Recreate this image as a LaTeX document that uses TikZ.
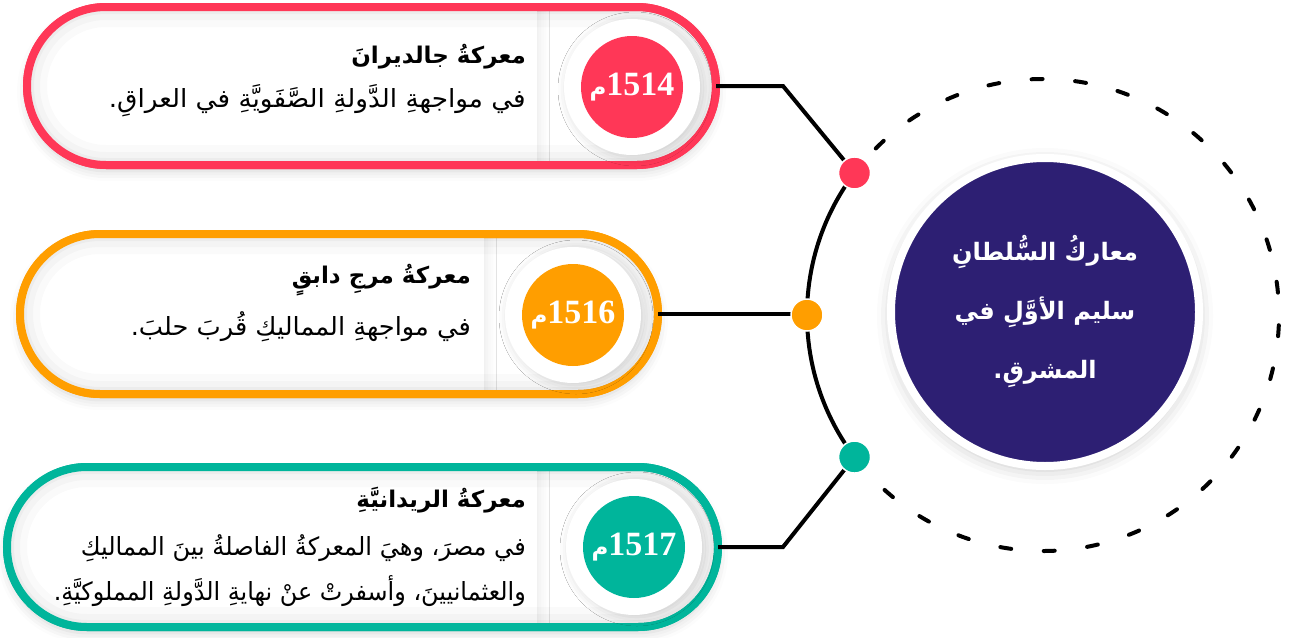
\documentclass[tikz,border=0pt]{standalone}
\usepackage{graphicx}
\usepackage{fontspec}
\setmainfont{Liberation Serif}
\newfontfamily\arabicfont[Script=Arabic]{DejaVu Sans}
\TeXXeTstate=1
\usetikzlibrary{shadows.blur,calc}
\definecolor{cred}{HTML}{FF3757}
\definecolor{corange}{HTML}{FF9E00}
\definecolor{cteal}{HTML}{00B59B}
\definecolor{cnavy}{HTML}{2D1F73}
\newcommand\mletterfont{\arabicfont\bfseries\fontsize{23}{23}\selectfont}
\newcommand\fitline[2]{\resizebox{#1}{\height}{#2}}
\begin{document}
\begin{tikzpicture}[x=1pt,y=-1pt,
  pillbase/.style={rectangle, outer sep=0pt, inner sep=0pt, fill=white, line width=8pt,
    blur shadow={shadow xshift=0pt, shadow yshift=-6pt, shadow blur radius=10pt, shadow opacity=18}},
  glow/.style={black, line width=#1},
  panel/.style={fill=white, blur shadow={shadow xshift=3pt, shadow yshift=0pt, shadow blur radius=9pt, shadow opacity=8}},
  ringst/.style={circle, fill=white, minimum size=136pt, inner sep=0pt, outer sep=0pt,
    blur shadow={shadow xshift=3pt, shadow yshift=-2pt, shadow blur radius=9pt, shadow opacity=16}},
  badgest/.style={circle, minimum size=102pt, inner sep=0pt, text=white,
    font=\bfseries\fontsize{34}{34}\selectfont},
  dotst/.style={circle, minimum size=32pt, inner sep=0pt, draw=white, line width=1.5pt},
  conn/.style={line width=4pt, black},
  titlest/.style={anchor=east, inner sep=0pt, font=\arabicfont\bfseries\fontsize{23}{28}\selectfont},
  bodyst/.style={anchor=east, align=right, inner sep=0pt, font=\arabicfont\fontsize{25}{45}\selectfont}
]
\useasboundingbox (0,0) rectangle (1290,637);

% ---------- top pill ----------
\node[pillbase, draw=cred, minimum width=689pt, minimum height=158pt, rounded corners=79pt] (p1) at (371.5,86) {};
\begin{scope}
  \clip[rounded corners=79pt] (p1.south west) rectangle (p1.north east);
  \path[panel] (-100,-50) rectangle (537,250);
  \foreach \w/\o in {40/0.02,26/0.025,14/0.03}
    \draw[glow=\w pt, opacity=\o, rounded corners=79pt] (p1.south west) rectangle (p1.north east);
\end{scope}
\draw[cred, line width=8pt, rounded corners=79pt] (p1.south west) rectangle (p1.north east);
\node[ringst] (r1) at (632,87) {};
\node[badgest, fill=cred] (b1) at (632,87) {{\mletterfont م}1514};
\node[titlest] (t1) at (526,57) {\beginR معركةُ جالديرانَ\endR};
\node[bodyst] (s1) at (526,101) {\fitline{417pt}{\beginR في مواجهةِ الدَّولةِ الصَّفَويَّةِ في العراقِ.\endR}};

% ---------- middle pill ----------
\node[pillbase, draw=corange, minimum width=638pt, minimum height=160pt, rounded corners=80pt] (p2) at (339,314) {};
\begin{scope}
  \clip[rounded corners=80pt] (p2.south west) rectangle (p2.north east);
  \path[panel] (-100,200) rectangle (484,450);
  \foreach \w/\o in {40/0.02,26/0.025,14/0.03}
    \draw[glow=\w pt, opacity=\o, rounded corners=80pt] (p2.south west) rectangle (p2.north east);
\end{scope}
\draw[corange, line width=8pt, rounded corners=80pt] (p2.south west) rectangle (p2.north east);
\node[ringst] (r2) at (573,315) {};
\node[badgest, fill=corange] (b2) at (573,315) {{\mletterfont م}1516};
\node[titlest] (t2) at (471,280) {\beginR معركةُ مرجِ دابقٍ\endR};
\node[bodyst] (s2) at (471,327) {\fitline{340pt}{\beginR في مواجهةِ المماليكِ قُربَ حلبَ.\endR}};

% ---------- bottom pill ----------
\node[pillbase, draw=cteal, minimum width=711pt, minimum height=160pt, rounded corners=80pt] (p3) at (362.5,547) {};
\begin{scope}
  \clip[rounded corners=80pt] (p3.south west) rectangle (p3.north east);
  \path[panel] (-100,420) rectangle (537,680);
  \foreach \w/\o in {40/0.02,26/0.025,14/0.03}
    \draw[glow=\w pt, opacity=\o, rounded corners=80pt] (p3.south west) rectangle (p3.north east);
\end{scope}
\draw[cteal, line width=8pt, rounded corners=80pt] (p3.south west) rectangle (p3.north east);
\node[ringst] (r3) at (634,547) {};
\node[badgest, fill=cteal] (b3) at (634,547) {{\mletterfont م}1517};
\node[titlest] (t3) at (526,500) {\beginR معركةُ الريدانيَّةِ\endR};
\node[bodyst] (s3) at (526,571) {\fitline{445pt}{\beginR في مصرَ، وهيَ المعركةُ الفاصلةُ بينَ المماليكِ\endR}\\\fitline{472pt}{\beginR والعثمانيينَ، وأسفرتْ عنْ نهايةِ الدَّولةِ المملوكيَّةِ.\endR}};

% ---------- ring, connectors, dots ----------
\coordinate (C) at (1043,315);
\coordinate (d1c) at ($(C)+(-143:236)$);
\coordinate (d2c) at ($(C)+(180:236)$);
\coordinate (d3c) at ($(C)+(143:236)$);
\coordinate (k1) at (783,86);
\coordinate (k3) at (783,547);
\draw[conn] (p1.east) -- (k1) -- (d1c);
\draw[conn] (p2.east) -- (p2.east -| d2c);
\draw[conn] (p3.east) -- (k3) -- (d3c);
\draw[conn] (d3c) arc[start angle=143, end angle=217, radius=236];
\draw[line width=4pt, line cap=round, dash pattern=on 11pt off 32.6pt, dash phase=11.1pt]
  (d1c) arc[start angle=217, end angle=503, radius=236];
\node[dotst, fill=cred] (d1) at (d1c) {};
\node[dotst, fill=corange] (d2) at (d2c) {};
\node[dotst, fill=cteal] (d3) at (d3c) {};

% ---------- centre ----------
\node[circle, fill=cnavy, draw=white, line width=8pt, minimum size=308pt, inner sep=0pt,
  blur shadow={shadow xshift=0pt, shadow yshift=-4pt, shadow blur radius=14pt, shadow opacity=22},
  text=white, align=center, font=\arabicfont\bfseries\fontsize{24}{59}\selectfont]
  (c) at (1045,312) {\beginR معاركُ السُّلطانِ\endR\\\beginR سليم الأوَّلِ في\endR\\\beginR المشرقِ.\endR};
\end{tikzpicture}
\end{document}
